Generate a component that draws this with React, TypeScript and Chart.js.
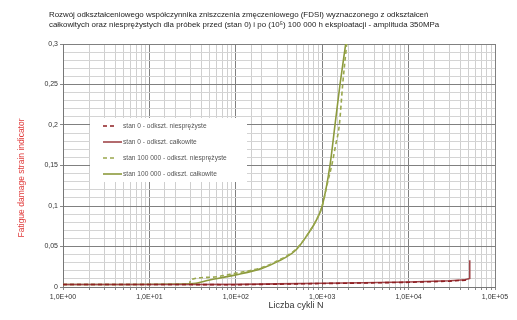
import React, { useEffect, useRef } from "react";
import { Chart, registerables } from "chart.js";

Chart.register(...registerables);

const titleLines = [
  "Rozwój odkształceniowego współczynnika zniszczenia zmęczeniowego (FDSI) wyznaczonego z odkształceń",
  "całkowitych oraz niesprężystych dla próbek przed (stan 0) i po (10⁵) 100 000 h eksploatacji - amplituda 350MPa",
];
const yTitle = "Fatigue damage strain indicator";
const xTitle = "Liczba cykli N";

const seriesLabels = [
  "stan 0 - odkszt. niesprężyste",
  "stan 0 - odkszt. całkowite",
  "stan 100 000 - odkszt. niesprężyste",
  "stan 100 000 - odkszt. całkowite",
];

// stan 0 - niesprężyste (dashed red)
const n0Inel = [1, 30, 100, 300, 1000, 3000, 10000, 30000, 45000, 50000];
const v0Inel = [0.003, 0.003, 0.0028, 0.0035, 0.0043, 0.005, 0.0058, 0.0072, 0.0085, 0.0095];
// stan 0 - całkowite (solid red)
const n0Tot = [1, 30, 100, 300, 1000, 3000, 10000, 30000, 45000, 51000, 51000];
const v0Tot = [0.003, 0.003, 0.0032, 0.0038, 0.0046, 0.0053, 0.0062, 0.0077, 0.009, 0.0105, 0.033];
// stan 100 000 - niesprężyste (dashed green)
const n1Inel = [1, 29, 30, 50, 100, 200, 300, 500, 700, 850, 1000, 1130, 1288, 1430, 1578, 1726, 1920];
const v1Inel = [0.003, 0.003, 0.009, 0.012, 0.017, 0.024, 0.032, 0.047, 0.067, 0.082, 0.1, 0.125, 0.15, 0.175, 0.2, 0.25, 0.3];
// stan 100 000 - całkowite (solid green)
const n1Tot = [1, 30, 50, 100, 200, 300, 500, 700, 850, 1000, 1230, 1406, 1607, 1870];
const v1Tot = [0.003, 0.004, 0.0086, 0.015, 0.023, 0.031, 0.046, 0.067, 0.082, 0.1, 0.15, 0.2, 0.25, 0.3];

const colors = ["#8e1f22", "#a0464a", "#9aa84e", "#8c9a3c"];
const dashes: number[][] = [[4, 3], [], [4, 3], []];

const toPts = (xs: number[], ys: number[]) => xs.map((x, i) => ({ x, y: ys[i] }));

const FONT = "'Liberation Sans', Arial, sans-serif";

export default function App() {
  const ref = useRef<HTMLCanvasElement | null>(null);
  useEffect(() => {
    if (!ref.current) return;
    const overlay = {
      id: "overlay",
      afterDatasetsDraw(chart: any) {
        const ctx = chart.ctx;
        const ca = chart.chartArea;
        ctx.save();
        // legend
        const lx = ca.left + 27;
        const ly = ca.top + 74;
        ctx.fillStyle = "#ffffff";
        ctx.fillRect(lx, ly, 157, 64);
        ctx.font = `6.6px ${FONT}`;
        ctx.textBaseline = "middle";
        ctx.textAlign = "left";
        for (let i = 0; i < 4; i++) {
          const yy = ly + 8 + i * 16;
          ctx.strokeStyle = colors[i];
          ctx.lineWidth = 1.6;
          ctx.setLineDash(dashes[i]);
          ctx.beginPath();
          ctx.moveTo(lx + 13, yy);
          ctx.lineTo(lx + (dashes[i].length ? 27 : 32), yy);
          ctx.stroke();
          ctx.setLineDash([]);
          ctx.fillStyle = "#555";
          ctx.fillText(seriesLabels[i], lx + 33, yy);
        }
        ctx.restore();
      },
      afterDraw(chart: any) {
        const ctx = chart.ctx;
        ctx.save();
        ctx.fillStyle = "#222";
        ctx.font = `7.9px ${FONT}`;
        ctx.textAlign = "left";
        ctx.textBaseline = "middle";
        ctx.fillText(titleLines[0], 49, 15);
        ctx.fillText(titleLines[1], 49, 25);
        ctx.font = `9px ${FONT}`;
        ctx.textAlign = "center";
        ctx.fillStyle = "#333";
        ctx.fillText(xTitle, 296, 306);
        ctx.translate(22, 178);
        ctx.rotate(-Math.PI / 2);
        ctx.fillStyle = "#e03a3a";
        ctx.font = `8.5px ${FONT}`;
        ctx.fillText(yTitle, 0, 0);
        ctx.restore();
      },
    };
    const isMajorX = (v: number) => Math.abs(Math.log10(v) - Math.round(Math.log10(v))) < 1e-9;
    const isMajorY = (v: number) => Math.round(v * 100) % 5 === 0;
    const chart = new Chart(ref.current, {
      type: "line",
      data: {
        datasets: [
          { label: seriesLabels[0], data: toPts(n0Inel, v0Inel), borderColor: colors[0], borderDash: dashes[0], borderWidth: 1.6, pointRadius: 0, tension: 0 },
          { label: seriesLabels[1], data: toPts(n0Tot, v0Tot), borderColor: colors[1], borderWidth: 1.6, pointRadius: 0, tension: 0 },
          { label: seriesLabels[2], data: toPts(n1Inel, v1Inel), borderColor: colors[2], borderDash: dashes[2], borderWidth: 1.6, pointRadius: 0, cubicInterpolationMode: "monotone" },
          { label: seriesLabels[3], data: toPts(n1Tot, v1Tot), borderColor: colors[3], borderWidth: 1.6, pointRadius: 0, cubicInterpolationMode: "monotone" },
        ] as any,
      },
      options: {
        responsive: false,
        animation: false,
        parsing: false as any,
        layout: { padding: { top: 44, right: 22, left: 0, bottom: 0 } },
        plugins: { legend: { display: false }, title: { display: false }, tooltip: { enabled: false } },
        scales: {
          x: {
            type: "logarithmic",
            min: 1,
            max: 100000,
            afterFit: (s: any) => { s.height = 33; },
            border: { color: "#777", width: 1 },
            grid: {
              color: (c: any) => (c.tick && isMajorX(c.tick.value) ? "#808080" : "#cfcfcf"),
              tickColor: "#888",
              tickLength: 3,
              lineWidth: 1,
            },
            ticks: {
              autoSkip: false,
              maxRotation: 0,
              padding: 3,
              color: "#333",
              font: { family: FONT, size: 7 },
              callback: (v: any) => {
                const n = Number(v);
                if (!isMajorX(n)) return "";
                const e = Math.round(Math.log10(n));
                return `1,0E+${e < 10 ? "0" + e : e}`;
              },
            },
          },
          y: {
            type: "linear",
            min: 0,
            max: 0.3,
            afterFit: (s: any) => { s.width = 63; },
            border: { color: "#777", width: 1 },
            grid: {
              color: (c: any) => (c.tick && isMajorY(c.tick.value) ? "#808080" : "#d4d4d4"),
              tickColor: (c: any) => (c.tick && isMajorY(c.tick.value) ? "#888" : "rgba(0,0,0,0)"),
              tickLength: 3,
            },
            ticks: {
              stepSize: 0.01,
              autoSkip: false,
              padding: 2,
              color: "#333",
              font: { family: FONT, size: 7 },
              callback: (v: any) => {
                const n = Number(v);
                if (!isMajorY(n)) return "";
                return String(Math.round(n * 100) / 100).replace(".", ",");
              },
            },
          },
        },
      },
      plugins: [overlay],
    });
    return () => chart.destroy();
  }, []);
  return (
    <div style={{ position: "fixed", left: 0, top: 0, width: 517, height: 320, background: "#fff" }}>
      <canvas ref={ref} width={517} height={320} style={{ width: 517, height: 320 }} />
    </div>
  );
}
